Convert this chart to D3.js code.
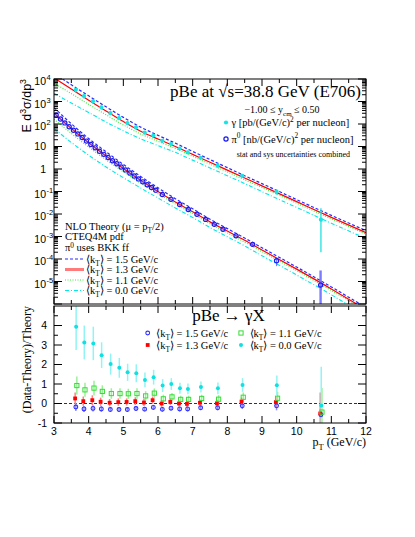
<!DOCTYPE html>
<html>
<head>
<meta charset="utf-8">
<script src="https://cdn.jsdelivr.net/npm/d3@7"></script>
<style>
  body { margin: 0; background: #fff; }
  text { font-family: "Liberation Serif", "Times New Roman", serif; fill: #000; }
  .sans { font-family: "Liberation Sans", Arial, sans-serif; }
</style>
</head>
<body>
<script>
// ---- theory curves (NLO, mu = pT/2), sampled at thPt ----
const thPt = [3, 3.5, 4, 4.5, 5, 5.5, 6, 6.5, 7, 7.5, 8, 8.5, 9, 10, 11, 12];
const gammaTh15 = [1.82e4, 5.50e3, 1.78e3, 582, 197, 72.4, 31.3, 14.1, 6.03, 2.63, 1.15, 0.501, 0.224, 0.0437, 0.00871, 0.00182];
const gammaTh13 = [1.12e4, 3.55e3, 1.15e3, 380, 129, 47.9, 21.4, 10.0, 4.47, 2.0, 0.891, 0.398, 0.178, 0.0355, 0.00708, 0.00148];
const gammaTh11 = [6.61e3, 2.24e3, 750, 257, 91.2, 35.9, 17.0, 8.22, 3.67, 1.64, 0.741, 0.331, 0.150, 0.0302, 0.00603, 0.00126];
const gammaTh00 = [2.34e3, 851, 324, 123, 50.1, 21.9, 11.0, 5.50, 2.48, 1.12, 0.501, 0.224, 0.0989, 0.0195, 0.00389, 0.000813];
const pi0Th15 = [537, 102, 22.6, 5.82, 1.60, 0.468, 0.146, 0.0479, 0.0170, 0.00589, 0.00224, 8.51e-4, 3.16e-4, 4.37e-5, 5.75e-6, 6.92e-7];
const pi0Th13 = [302, 63.1, 14.6, 3.80, 1.06, 0.313, 0.100, 0.0339, 0.0126, 0.00447, 0.00174, 6.76e-4, 2.51e-4, 3.55e-5, 4.68e-6, 5.62e-7];
const pi0Th11 = [162, 38.0, 9.44, 2.57, 0.750, 0.234, 0.0794, 0.0279, 0.0104, 0.00367, 0.00145, 5.62e-4, 2.11e-4, 3.02e-5, 3.98e-6, 4.79e-7];
const pi0Th00 = [63.1, 15.1, 4.12, 1.23, 0.412, 0.143, 0.0513, 0.0186, 0.00700, 0.00251, 9.77e-4, 3.80e-4, 1.40e-4, 1.95e-5, 2.57e-6, 3.09e-7];

// ---- direct photon data ----
const gammaPt = [3.63, 3.865, 4.125, 4.365, 4.625, 4.875, 5.115, 5.365, 5.615, 5.865, 6.125, 6.375, 6.625, 6.855, 7.23, 7.72, 8.43, 9.42, 10.70];
const gammaXsec = [3310, 1740, 1020, 550, 302, 182, 110, 70.8, 41.7, 30.9, 17.8, 12.9, 8.13, 5.50, 3.16, 1.41, 0.49, 0.098, 0.0056];
const gammaErr = [790, 365, 215, 105, 54, 33, 19, 12.7, 7.1, 4.9, 3.0, 1.9, 1.3, 0.88, 0.47, 0.24, 0.088, 0.025, 0.0123];
const gammaErrLo = [790, 365, 215, 105, 54, 33, 19, 12.7, 7.1, 4.9, 3.0, 1.9, 1.3, 0.88, 0.47, 0.24, 0.088, 0.025, 0.0054];

// ---- pi0 data ----
const pi0Pt = [3.0625, 3.1875, 3.3125, 3.4375, 3.5625, 3.6875, 3.8125, 3.9375, 4.0625, 4.1875, 4.3125, 4.4375,
  4.5625, 4.6875, 4.8125, 4.9375, 5.0625, 5.1875, 5.3125, 5.4375, 5.5625, 5.6875, 5.8125, 5.9375,
  6.125, 6.375, 6.625, 6.875, 7.125, 7.375, 7.625, 7.875, 8.25, 8.73, 9.42, 10.69];
const pi0Xsec = [251, 166, 112, 75.9, 52.5, 36.3, 25.1, 17.4, 12.3, 8.71, 6.17, 4.47,
  3.24, 2.34, 1.70, 1.23, 0.912, 0.661, 0.490, 0.363, 0.269, 0.200, 0.151, 0.115,
  0.0741, 0.0447, 0.0263, 0.0158, 0.00977, 0.00575, 0.00347, 0.00209, 0.00107, 4.47e-4, 8.32e-5, 6.92e-6];
const pi0Err = [20, 13, 9, 6, 4.2, 2.9, 2.0, 1.4, 1.0, 0.7, 0.5, 0.36,
  0.26, 0.19, 0.14, 0.10, 0.075, 0.055, 0.042, 0.032, 0.024, 0.018, 0.014, 0.011,
  0.008, 0.005, 0.0032, 0.002, 0.0013, 0.0008, 0.0005, 0.0003, 0.00018, 9e-5, 3.5e-5, 2.4e-5];

// ---- (Data-Theory)/Theory for photons ----
const ratio15 = [-0.18, -0.28, -0.25, -0.28, -0.31, -0.31, -0.31, -0.26, -0.29, -0.20, -0.30, -0.24, -0.28, -0.28, -0.22, -0.22, -0.12, -0.12, -0.58];
const ratio15Err = [0.20, 0.15, 0.16, 0.14, 0.12, 0.12, 0.12, 0.13, 0.12, 0.13, 0.12, 0.11, 0.12, 0.12, 0.12, 0.13, 0.16, 0.23, 0.92];
const ratio13 = [0.26, 0.12, 0.17, 0.09, 0.04, 0.07, 0.08, 0.12, 0.05, 0.17, 0.0, 0.08, 0.0, -0.02, 0.04, 0.01, 0.10, 0.07, -0.51];
const ratio13Err = [0.30, 0.24, 0.25, 0.21, 0.19, 0.19, 0.18, 0.20, 0.18, 0.19, 0.17, 0.16, 0.16, 0.16, 0.16, 0.17, 0.20, 0.28, 1.08];
const ratio11 = [0.92, 0.70, 0.79, 0.62, 0.51, 0.51, 0.50, 0.51, 0.39, 0.53, 0.24, 0.34, 0.21, 0.21, 0.26, 0.22, 0.32, 0.27, -0.44];
const ratio11Err = [0.46, 0.36, 0.38, 0.31, 0.27, 0.27, 0.26, 0.27, 0.24, 0.24, 0.21, 0.20, 0.19, 0.19, 0.19, 0.21, 0.24, 0.33, 1.23];
const ratio00 = [3.93, 3.13, 3.08, 2.48, 2.02, 1.83, 1.60, 1.55, 1.21, 1.35, 0.92, 1.00, 0.78, 0.75, 0.85, 0.78, 0.95, 0.94, -0.10];
const ratio00Err = [1.18, 0.87, 0.86, 0.66, 0.54, 0.51, 0.44, 0.46, 0.38, 0.38, 0.33, 0.30, 0.28, 0.28, 0.28, 0.30, 0.35, 0.50, 1.98];

// ---- axis ticks ----
const xTicks = [3, 4, 5, 6, 7, 8, 9, 10, 11, 12];
const topDecades = [-5, -4, -3, -2, -1, 0, 1, 2, 3, 4];
const ratioTicks = [-1, 0, 1, 2, 3, 4];

const W = 415, H = 537;
const svg = d3.select("body").append("svg").attr("width", W).attr("height", H);
svg.append("rect").attr("width", W).attr("height", H).attr("fill", "#fff");

const x = d3.scaleLinear().domain([3, 12]).range([54, 366]);
const yTop = d3.scaleLog().domain([1e-6, 1e4]).range([304, 79]);
const yBot = d3.scaleLinear().domain([-1, 5]).range([423, 306]);

const defs = svg.append("defs");
defs.append("clipPath").attr("id", "clipTop").append("rect")
    .attr("x", 54).attr("y", 79).attr("width", 312).attr("height", 225);
defs.append("clipPath").attr("id", "clipBot").append("rect")
    .attr("x", 54).attr("y", 306).attr("width", 312).attr("height", 117);

// rich text helper: parts = [[text, "sup"|"sub"|null], ...]
function rich(sel, parts, size, supRaise = 0.42) {
  let shift = 0;
  parts.forEach(([t, m]) => {
    const target = m === "sup" ? -supRaise * size : m === "sub" ? 0.3 * size : 0;
    sel.append("tspan").attr("dy", target - shift)
       .style("font-size", m ? (size * 0.7) + "px" : size + "px").text(t);
    shift = target;
  });
  return sel;
}

const kStyles = {
  k15: { color: "#2a2aff", dash: "3,2", width: 1.2 },
  k13: { color: "#ff0000", dash: null, width: 1.2 },
  k11: { color: "#33ee33", dash: "1,1.5", width: 1.1 },
  k00: { color: "#00e8e8", dash: "4,2,1,2", width: 1.1 }
};

// ---------------- top panel ----------------
const topG = svg.append("g");
const topClip = topG.append("g").attr("clip-path", "url(#clipTop)");

const line = d3.line().x(d => x(d[0])).y(d => yTop(d[1])).curve(d3.curveMonotoneX);
const curves = [
  [gammaTh00, "k00"], [gammaTh11, "k11"], [gammaTh13, "k13"], [gammaTh15, "k15"],
  [pi0Th00, "k00"], [pi0Th11, "k11"], [pi0Th13, "k13"], [pi0Th15, "k15"]
];
curves.forEach(([vals, k]) => {
  const s = kStyles[k];
  topClip.append("path")
    .datum(thPt.map((p, i) => [p, vals[i]]))
    .attr("d", line)
    .attr("fill", "none")
    .attr("stroke", s.color)
    .attr("stroke-width", s.width)
    .attr("stroke-dasharray", s.dash);
});

// error bars
const yLo = v => v > 1e-6 ? yTop(v) : 304;
topClip.selectAll(".gErr").data(gammaPt).enter().append("line")
  .attr("x1", d => x(d)).attr("x2", d => x(d))
  .attr("y1", (d, i) => yTop(gammaXsec[i] + gammaErr[i]))
  .attr("y2", (d, i) => yLo(gammaXsec[i] - gammaErrLo[i]))
  .attr("stroke", "#22e0e0").attr("stroke-width", 1.3);
topClip.selectAll(".pErr").data(pi0Pt).enter().append("line")
  .attr("x1", d => x(d)).attr("x2", d => x(d))
  .attr("y1", (d, i) => yTop(pi0Xsec[i] + pi0Err[i]))
  .attr("y2", (d, i) => yLo(pi0Xsec[i] - pi0Err[i]))
  .attr("stroke", "#5a5aff").attr("stroke-width", (d, i) => i === pi0Pt.length - 1 ? 2.4 : 1.2)
  .attr("stroke-opacity", 0.8);

// markers
topClip.selectAll(".gPt").data(gammaPt).enter().append("circle")
  .attr("cx", d => x(d)).attr("cy", (d, i) => yTop(gammaXsec[i]))
  .attr("r", 2.1).attr("fill", "#18e4e4");
topClip.selectAll(".pPt").data(pi0Pt).enter().append("circle")
  .attr("cx", d => x(d)).attr("cy", (d, i) => yTop(pi0Xsec[i]))
  .attr("r", 2.1).attr("fill", "none").attr("stroke", "#1a1aee").attr("stroke-width", 1.2);

// frame + ticks
topG.append("rect").attr("x", 54).attr("y", 79).attr("width", 312).attr("height", 225)
  .attr("fill", "none").attr("stroke", "#000").attr("stroke-width", 1);

const logTicks = [];
for (let e = -6; e < 4; e++) for (let m = 1; m < 10; m++) logTicks.push({ v: m * Math.pow(10, e), major: m === 1 });
logTicks.push({ v: 1e4, major: true });
const lt = topG.append("g").attr("stroke", "#000").attr("stroke-width", 1);
logTicks.filter(t => t.v >= 1e-6 && t.v <= 1e4).forEach(t => {
  const yy = yTop(t.v), len = t.major ? 8 : 4;
  lt.append("line").attr("x1", 54).attr("x2", 54 + len).attr("y1", yy).attr("y2", yy);
  lt.append("line").attr("x1", 366).attr("x2", 366 - len).attr("y1", yy).attr("y2", yy);
});
const halfTicks = d3.range(6, 25).map(v => v / 2);
halfTicks.forEach(v => {
  const len = Number.isInteger(v) ? 7 : 4;
  lt.append("line").attr("x1", x(v)).attr("x2", x(v)).attr("y1", 304).attr("y2", 304 - len);
  lt.append("line").attr("x1", x(v)).attr("x2", x(v)).attr("y1", 79).attr("y2", 79 + len);
});

// y labels (powers of ten)
topDecades.forEach(e => {
  const yy = yTop(Math.pow(10, e));
  if (e === 0 || e === 1) {
    topG.append("text").attr("class", "sans").attr("x", 46).attr("y", yy + 3.8)
      .attr("text-anchor", "end").style("font-size", "10.5px").text(e === 0 ? "1" : "10");
  } else {
    topG.append("text").attr("class", "sans").attr("x", 46).attr("y", yy + 6)
      .attr("text-anchor", "end").style("font-size", "10.5px").text("10");
    topG.append("text").attr("class", "sans").attr("x", 46.5).attr("y", yy + 1)
      .style("font-size", "7.5px").text(e);
  }
});

// y title
const yt = topG.append("text").attr("class", "sans")
  .attr("transform", "translate(31,79) rotate(-90)")
  .attr("text-anchor", "end");
rich(yt, [["E d", null], ["3", "sup"], ["σ/dp", null], ["3", "sup"]], 12.5);

// headline and legend
topG.append("text").attr("x", 361).attr("y", 97).attr("text-anchor", "end")
  .style("font-size", "17px").text("pBe at √s=38.8 GeV (E706)");
rich(topG.append("text").attr("x", 282).attr("y", 112.5).attr("text-anchor", "middle"),
  [["−1.00 ≤ y", null], ["cm", "sub"], [" ≤ 0.50", null]], 10);
topG.append("circle").attr("cx", 226).attr("cy", 122.5).attr("r", 2.1).attr("fill", "#18e4e4");
rich(topG.append("text").attr("x", 231.5).attr("y", 126.3),
  [["γ  [pb/(GeV/c)", null], ["2", "sup"], [" per nucleon]", null]], 10.5);
topG.append("circle").attr("cx", 226).attr("cy", 139).attr("r", 2.1)
  .attr("fill", "none").attr("stroke", "#1a1aee").attr("stroke-width", 1.2);
rich(topG.append("text").attr("x", 231.5).attr("y", 142.8),
  [["π", null], ["0", "sup"], [" [nb/(GeV/c)", null], ["2", "sup"], [" per nucleon]", null]], 10.5);
topG.append("text").attr("x", 350).attr("y", 156.5).attr("text-anchor", "end")
  .style("font-size", "8px").text("stat and sys uncertainties combined");

// theory legend
rich(topG.append("text").attr("x", 65).attr("y", 230),
  [["NLO Theory (μ = p", null], ["T", "sub"], ["/2)", null]], 10.5);
topG.append("text").attr("x", 65).attr("y", 240).style("font-size", "10.5px").text("CTEQ4M pdf");
rich(topG.append("text").attr("x", 65).attr("y", 251),
  [["π", null], ["0", "sup"], [" uses BKK ff", null]], 10.5, 0.32);
const kLegend = [["k15", "1.5"], ["k13", "1.3"], ["k11", "1.1"], ["k00", "0.0"]];
kLegend.forEach(([k, lab], i) => {
  const yy = 259 + i * 10.5;
  const s = kStyles[k];
  topG.append("line").attr("x1", 65).attr("x2", 84).attr("y1", yy).attr("y2", yy)
    .attr("stroke", k === "k13" ? "#ff7a7a" : s.color)
    .attr("stroke-width", k === "k13" ? 3 : s.width)
    .attr("stroke-dasharray", s.dash);
  rich(topG.append("text").attr("x", 86).attr("y", yy + 3.6),
    [["⟨k", null], ["T", "sub"], ["⟩ = " + lab + " GeV/c", null]], 10.5);
});

// ---------------- bottom panel ----------------
const botG = svg.append("g");
const botClip = botG.append("g").attr("clip-path", "url(#clipBot)");

botClip.append("line").attr("x1", 54).attr("x2", 366).attr("y1", yBot(0)).attr("y2", yBot(0))
  .attr("stroke", "#333").attr("stroke-width", 1).attr("stroke-dasharray", "3,2");

const ratioSeries = [
  { vals: ratio15, err: ratio15Err, color: "#3030ff", bar: "#8c8cff", shape: "circleOpen", dx: 0 },
  { vals: ratio13, err: ratio13Err, color: "#ff0000", bar: "#ff8080", shape: "squareFill", dx: -0.7 },
  { vals: ratio11, err: ratio11Err, color: "#33dd33", bar: "#99f099", shape: "squareOpen", dx: 1 },
  { vals: ratio00, err: ratio00Err, color: "#10e0e0", bar: "#90f4f4", shape: "circleFill", dx: 0.3 }
];

function marker(g, shape, cx, cy, color) {
  if (shape === "circleOpen") {
    g.append("circle").attr("cx", cx).attr("cy", cy).attr("r", 1.9)
      .attr("fill", "none").attr("stroke", color).attr("stroke-width", 1.1);
  } else if (shape === "circleFill") {
    g.append("circle").attr("cx", cx).attr("cy", cy).attr("r", 2).attr("fill", color);
  } else if (shape === "squareFill") {
    g.append("rect").attr("x", cx - 1.9).attr("y", cy - 1.9).attr("width", 3.8).attr("height", 3.8).attr("fill", color);
  } else {
    g.append("rect").attr("x", cx - 2.1).attr("y", cy - 2.1).attr("width", 4.2).attr("height", 4.2)
      .attr("fill", "none").attr("stroke", color).attr("stroke-width", 1);
  }
}

ratioSeries.forEach(s => {
  gammaPt.forEach((p, i) => {
    const cx = x(p) + s.dx;
    botClip.append("line").attr("x1", cx).attr("x2", cx)
      .attr("y1", yBot(s.vals[i] + s.err[i])).attr("y2", yBot(s.vals[i] - s.err[i]))
      .attr("stroke", s.bar).attr("stroke-width", 1.5);
  });
});
ratioSeries.forEach(s => {
  gammaPt.forEach((p, i) => marker(botClip, s.shape, x(p) + s.dx, yBot(s.vals[i]), s.color));
});

botG.append("rect").attr("x", 54).attr("y", 306).attr("width", 312).attr("height", 117)
  .attr("fill", "none").attr("stroke", "#000").attr("stroke-width", 1);
const bt = botG.append("g").attr("stroke", "#000").attr("stroke-width", 1);
halfTicks.forEach(v => {
  const len = Number.isInteger(v) ? 7 : 4;
  bt.append("line").attr("x1", x(v)).attr("x2", x(v)).attr("y1", 423).attr("y2", 423 - len);
  bt.append("line").attr("x1", x(v)).attr("x2", x(v)).attr("y1", 306).attr("y2", 306 + len);
});
d3.range(-2, 10).map(v => v / 2).forEach(v => {
  const len = Number.isInteger(v) ? 8 : 4;
  bt.append("line").attr("x1", 54).attr("x2", 54 + len).attr("y1", yBot(v)).attr("y2", yBot(v));
  bt.append("line").attr("x1", 366).attr("x2", 366 - len).attr("y1", yBot(v)).attr("y2", yBot(v));
});

xTicks.forEach(v => {
  botG.append("text").attr("class", "sans").attr("x", x(v)).attr("y", 434.5)
    .attr("text-anchor", "middle").style("font-size", "10.5px").text(v);
});
ratioTicks.forEach(v => {
  botG.append("text").attr("class", "sans").attr("x", 47).attr("y", yBot(v) + 3.8)
    .attr("text-anchor", "end").style("font-size", "10.5px").text(v);
});

rich(botG.append("text").attr("x", 366).attr("y", 446).attr("text-anchor", "end"),
  [["p", null], ["T", "sub"], [" (GeV/c)", null]], 12);
botG.append("text").attr("transform", "translate(31,306) rotate(-90)").attr("text-anchor", "end")
  .style("font-size", "12px").text("(Data-Theory)/Theory");

botG.append("text").attr("x", 228.5).attr("y", 321).attr("text-anchor", "middle")
  .style("font-size", "17px").text("pBe → γX");

const botLegend = [
  [ratioSeries[0], "1.5", 147.7, 333], [ratioSeries[2], "1.1", 241, 333],
  [ratioSeries[1], "1.3", 147.7, 345], [ratioSeries[3], "0.0", 241, 345]
];
botLegend.forEach(([s, lab, lx, ly]) => {
  marker(botG, s.shape, lx, ly, s.color);
  rich(botG.append("text").attr("x", lx + 8.5).attr("y", ly + 3.6),
    [["⟨k", null], ["T", "sub"], ["⟩ = " + lab + " GeV/c", null]], 10.5);
});
</script>
</body>
</html>
